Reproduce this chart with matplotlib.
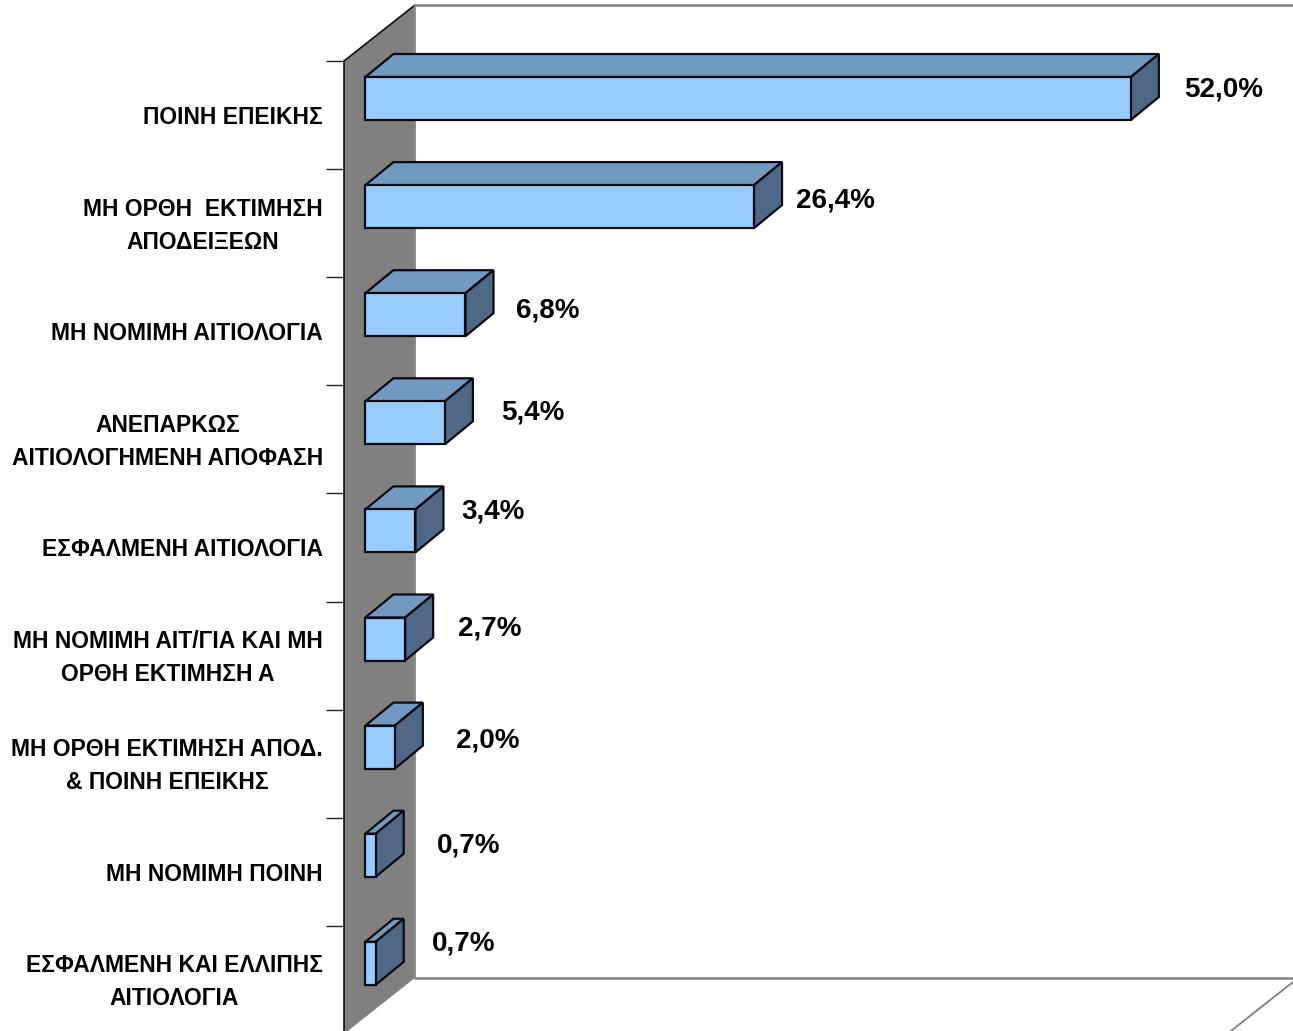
import matplotlib
matplotlib.use('Agg')
import matplotlib.pyplot as plt
from matplotlib.patches import Polygon
import numpy as np

plt.rcParams['font.family'] = ['Liberation Sans', 'DejaVu Sans']

categories = ['ΠΟΙΝΗ ΕΠΕΙΚΗΣ',
              'ΜΗ ΟΡΘΗ  ΕΚΤΙΜΗΣΗ\nΑΠΟΔΕΙΞΕΩΝ',
              'ΜΗ ΝΟΜΙΜΗ ΑΙΤΙΟΛΟΓΙΑ',
              'ΑΝΕΠΑΡΚΩΣ\nΑΙΤΙΟΛΟΓΗΜΕΝΗ ΑΠΟΦΑΣΗ',
              'ΕΣΦΑΛΜΕΝΗ ΑΙΤΙΟΛΟΓΙΑ',
              'ΜΗ ΝΟΜΙΜΗ ΑΙΤ/ΓΙΑ ΚΑΙ ΜΗ\nΟΡΘΗ ΕΚΤΙΜΗΣΗ Α',
              'ΜΗ ΟΡΘΗ ΕΚΤΙΜΗΣΗ ΑΠΟΔ.\n& ΠΟΙΝΗ ΕΠΕΙΚΗΣ',
              'ΜΗ ΝΟΜΙΜΗ ΠΟΙΝΗ',
              'ΕΣΦΑΛΜΕΝΗ ΚΑΙ ΕΛΛΙΠΗΣ\nΑΙΤΙΟΛΟΓΙΑ']
values = [52.0, 26.4, 6.8, 5.4, 3.4, 2.7, 2.0, 0.7, 0.7]
value_labels = ['52,0%', '26,4%', '6,8%', '5,4%', '3,4%', '2,7%', '2,0%', '0,7%', '0,7%']

# hand placed data labels, offset in pixels from the end of the bar
label_dx = [93, 81, 82, 87.5, 78, 84.5, 92.5, 93, 88]
label_dy = [9, 6, 4, 10, 19.5, 10, 6.5, 9.5, 20]

# scale of the plot in pixels
px_x = 14.72
px_y = 108.1
x0_px = 365.4
y0_px = 98.5

W, H = 1293, 1031
fig = plt.figure(figsize=(W / 100, H / 100), dpi=100)
ax = fig.add_axes([0, 0, 1, 1])
ax.set_xlim(-x0_px / px_x, (W - x0_px) / px_x)
ax.set_ylim((H - y0_px) / px_y, -y0_px / px_y)
ax.axis('off')

# fake 3d offsets
axis_max = 60
wall_x = -21.4 / px_x
wall_dx = 71 / px_x
wall_dy = 56 / px_y
wall_top = -37.5 / px_y
wall_bottom = wall_top + len(values)
bar_dx = 28 / px_x
bar_dy = 23 / px_y
bar_h = 43 / px_y

back_x = wall_x + wall_dx
back_top = wall_top - wall_dy
back_bottom = wall_bottom - wall_dy

# back plane and floor lines
ax.plot([back_x, axis_max + back_x], [back_top, back_top], color='#808080', lw=1.8, zorder=1)
ax.plot([back_x, axis_max + back_x], [back_bottom, back_bottom], color='#808080', lw=1.8, zorder=1)
ax.plot([axis_max + wall_x, axis_max + back_x], [wall_bottom, back_bottom], color='#808080', lw=1.3, zorder=1)

# grey side wall
wall = Polygon([(wall_x, wall_top), (back_x, back_top), (back_x, back_bottom), (wall_x, wall_bottom)],
               closed=True, facecolor='#808080', edgecolor='none', zorder=2)
ax.add_patch(wall)
ax.plot([wall_x, wall_x], [wall_top, wall_bottom], color='#111111', lw=1.2, zorder=3)
ax.plot([wall_x, back_x], [wall_top, back_top], color='#111111', lw=1.2, zorder=3)
ax.plot([back_x, back_x], [back_top, back_bottom], color='#909090', lw=1.5, zorder=3)

# tick marks between the categories
tick_y = wall_top + np.arange(len(values))
ax.hlines(tick_y, wall_x - 18 / px_x, wall_x, color='#222222', lw=1.0, zorder=3)

# bars
y = np.arange(len(values))
ax.barh(y, values, height=bar_h, color='#99CCFF', edgecolor='#0a0a14', linewidth=1.6, zorder=5)
for i, v in enumerate(values):
    top = i - bar_h / 2
    bottom = i + bar_h / 2
    ax.add_patch(Polygon([(0, top), (bar_dx, top - bar_dy), (v + bar_dx, top - bar_dy), (v, top)],
                         closed=True, facecolor='#7299BF', edgecolor='#0a0a14', lw=1.6, zorder=4))
    ax.add_patch(Polygon([(v, top), (v + bar_dx, top - bar_dy), (v + bar_dx, bottom - bar_dy), (v, bottom)],
                         closed=True, facecolor='#4F6885', edgecolor='#0a0a14', lw=1.6, zorder=4))
    ax.annotate(value_labels[i], (v, i), xytext=(label_dx[i], label_dy[i]), textcoords='offset pixels',
                ha='center', va='center', fontsize=20, fontweight='bold', color='black', zorder=6)

    # category labels, multi line ones are centered
    ax.annotate(categories[i], (wall_x, i), xytext=(-21, -19), textcoords='offset pixels',
                ha='right', va='center', multialignment='center', fontsize=16.5, fontweight='bold',
                linespacing=1.55, color='black', zorder=6)

fig.savefig('out.png', dpi=100)
